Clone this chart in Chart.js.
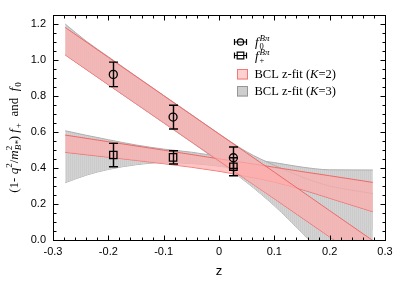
<!DOCTYPE html>
<html><head><meta charset="utf-8">
<script src="https://cdn.jsdelivr.net/npm/chart.js@4.4.1/dist/chart.umd.min.js"></script>
<style>html,body{margin:0;padding:0;background:#fff;}canvas{display:block;}</style>
</head><body>
<canvas id="c" width="407" height="282"></canvas>
<script>
// ---- data ----
const pointZ   = [-0.191, -0.083, 0.026];
const f0Vals   = [0.920, 0.683, 0.457];
const f0Errs   = [0.068, 0.066, 0.060];
const fpVals   = [0.472, 0.459, 0.407];
const fpErrs   = [0.065, 0.037, 0.050];

// BCL z-fit K=2 band edges
const zK2      = [-0.278, -0.2, -0.1, 0, 0.05, 0.1, 0.15, 0.2, 0.278];
const f0K2Hi   = [1.181, 1.015, 0.802, 0.589, 0.483, 0.377, 0.270, 0.163, -0.003];
const f0K2Lo   = [1.028, 0.863, 0.652, 0.440, 0.334, 0.229, 0.123, 0.017, -0.148];
const fpK2Hi   = [0.583, 0.546, 0.499, 0.451, 0.428, 0.404, 0.380, 0.357, 0.320];
const fpK2Lo   = [0.487, 0.460, 0.424, 0.382, 0.353, 0.322, 0.280, 0.232, 0.157];

// BCL z-fit K=3 band edges
const zK3      = [-0.278, -0.24, -0.2, -0.15, -0.1, -0.05, 0, 0.05, 0.1, 0.15, 0.2, 0.278];
const f0K3Hi   = [1.200, 1.105, 1.018, 0.910, 0.803, 0.697, 0.590, 0.490, 0.415, 0.350, 0.300, 0.258];
const f0K3Lo   = [1.030, 0.948, 0.862, 0.756, 0.650, 0.544, 0.435, 0.320, 0.190, 0.040, -0.120, -0.400];
const fpK3Hi   = [0.607, 0.582, 0.557, 0.528, 0.505, 0.488, 0.465, 0.450, 0.430, 0.405, 0.390, 0.389];
const fpK3Lo   = [0.318, 0.360, 0.392, 0.418, 0.430, 0.425, 0.410, 0.385, 0.345, 0.290, 0.210, 0.060];

// axis ticks
const xTicks = [-0.3, -0.2, -0.1, 0, 0.1, 0.2, 0.3];
const xTickLabels = ['-0.3', '-0.2', '-0.1', '0', '0.1', '0.2', '0.3'];
const yTicks = [0, 0.2, 0.4, 0.6, 0.8, 1.0, 1.2];
const yTickLabels = ['0.0', '0.2', '0.4', '0.6', '0.8', '1.0', '1.2'];

// ---- styles ----
const PINK_FILL = 'rgba(255,172,172,0.7)';
const PINK_LINE = 'rgb(238,105,105)';
const GRAY_LINE = 'rgb(175,175,175)';
const SERIF = '"Liberation Serif", "DejaVu Serif", serif';
const SANS = '"Liberation Sans", Arial, sans-serif';

const pc = document.createElement('canvas');
pc.width = 2; pc.height = 4;
const pctx = pc.getContext('2d');
pctx.fillStyle = 'rgb(203,203,203)'; pctx.fillRect(0, 0, 1, 4);
pctx.fillStyle = 'rgb(211,211,211)'; pctx.fillRect(1, 0, 1, 4);
const grayPattern = document.getElementById('c').getContext('2d').createPattern(pc, 'repeat');

const pts = (zs, ys) => zs.map((x, i) => ({x: x, y: ys[i]}));

function band(zs, ys, lineColor, fill, fillColor) {
  return {
    data: pts(zs, ys), showLine: true, pointRadius: 0, borderColor: lineColor,
    borderWidth: 1, backgroundColor: fillColor || 'rgba(0,0,0,0)', fill: fill,
    cubicInterpolationMode: 'monotone'
  };
}

const datasets = [
  {data: pts(pointZ, f0Vals), showLine: false, pointStyle: 'circle', pointRadius: 4,
   borderColor: '#000', borderWidth: 1.3, backgroundColor: 'rgba(0,0,0,0)', errs: f0Errs},
  {data: pts(pointZ, fpVals), showLine: false, pointStyle: 'rect', pointRadius: 5.2,
   borderColor: '#000', borderWidth: 1.3, backgroundColor: 'rgba(0,0,0,0)', errs: fpErrs},
  band(zK2, f0K2Hi, PINK_LINE, 3, PINK_FILL),
  band(zK2, f0K2Lo, PINK_LINE, false),
  band(zK2, fpK2Hi, PINK_LINE, 5, PINK_FILL),
  band(zK2, fpK2Lo, PINK_LINE, false),
  band(zK3, f0K3Hi, GRAY_LINE, 7, grayPattern),
  band(zK3, f0K3Lo, GRAY_LINE, false),
  band(zK3, fpK3Hi, GRAY_LINE, 9, grayPattern),
  band(zK3, fpK3Lo, GRAY_LINE, false)
];

function richWidth(ctx, parts) {
  let w = 0;
  for (const p of parts) { ctx.font = p.font; if (!p.noAdv) w += ctx.measureText(p.t).width + (p.gap || 0); }
  return w;
}
function drawRich(ctx, x, y, parts) {
  let cx = x;
  for (const p of parts) {
    ctx.font = p.font;
    ctx.fillText(p.t, cx, y + (p.dy || 0));
    if (!p.noAdv) cx += ctx.measureText(p.t).width + (p.gap || 0);
  }
}

const errorBars = {
  id: 'errorBars',
  afterDatasetsDraw(chart) {
    const ctx = chart.ctx, xs = chart.scales.x, ys = chart.scales.y;
    ctx.save();
    ctx.strokeStyle = '#000'; ctx.lineWidth = 1.4;
    chart.data.datasets.forEach(ds => {
      if (!ds.errs) return;
      ds.data.forEach((p, i) => {
        const px = Math.round(xs.getPixelForValue(p.x)) + 0.5;
        const y1 = ys.getPixelForValue(p.y + ds.errs[i]);
        const y2 = ys.getPixelForValue(p.y - ds.errs[i]);
        ctx.beginPath();
        ctx.moveTo(px, y1); ctx.lineTo(px, y2);
        ctx.moveTo(px - 4.5, y1); ctx.lineTo(px + 4.5, y1);
        ctx.moveTo(px - 4.5, y2); ctx.lineTo(px + 4.5, y2);
        ctx.stroke();
      });
    });
    ctx.restore();
  }
};

const frameAndDecor = {
  id: 'frameAndDecor',
  afterDraw(chart) {
    const ctx = chart.ctx, a = chart.chartArea, xs = chart.scales.x, ys = chart.scales.y;
    ctx.save();
    ctx.strokeStyle = '#000'; ctx.lineWidth = 1;
    const L = Math.round(a.left) + 0.5, R = Math.round(a.right) + 0.5;
    const T = Math.round(a.top) + 0.5, B = Math.round(a.bottom) + 0.5;
    ctx.strokeRect(L, T, R - L, B - T);
    ctx.beginPath();
    for (let k = -15; k <= 15; k++) {
      const v = k * 0.02;
      const px = Math.round(xs.getPixelForValue(v)) + 0.5;
      const len = (k % 5 === 0) ? 5 : 3;
      ctx.moveTo(px, B); ctx.lineTo(px, B - len);
      ctx.moveTo(px, T); ctx.lineTo(px, T + len);
    }
    for (let k = 0; k <= 25; k++) {
      const v = k * 0.05;
      const py = Math.round(ys.getPixelForValue(v)) + 0.5;
      const len = (k % 4 === 0) ? 5 : 3;
      ctx.moveTo(L, py); ctx.lineTo(L + len, py);
      ctx.moveTo(R, py); ctx.lineTo(R - len, py);
    }
    ctx.stroke();

    // x title
    ctx.fillStyle = '#000';
    ctx.font = '13px ' + SANS;
    ctx.textAlign = 'center'; ctx.textBaseline = 'alphabetic';
    ctx.fillText('z', (a.left + a.right) / 2, 275);

    // y title (rotated)
    const big = '13px ' + SERIF, bigI = 'italic 13px ' + SERIF;
    const sm = '9px ' + SERIF, smI = 'italic 9px ' + SERIF;
    const parts = [
      {t: '(1- ', font: big}, {t: 'q', font: bigI}, {t: '2', font: sm, dy: -6},
      {t: '/', font: big}, {t: 'm', font: bigI}, {t: '2', font: sm, dy: -6, noAdv: true},
      {t: 'B*', font: smI, dy: 3}, {t: ') ', font: big},
      {t: 'f', font: bigI, gap: 1}, {t: '+', font: sm, dy: 3}, {t: '  and  ', font: big},
      {t: 'f', font: bigI, gap: 1}, {t: '0', font: sm, dy: 3}
    ];
    ctx.save();
    ctx.translate(17.5, 137.5);
    ctx.rotate(-Math.PI / 2);
    ctx.textAlign = 'left';
    const w = richWidth(ctx, parts);
    drawRich(ctx, -w / 2, 0, parts);
    ctx.restore();

    // legend
    ctx.textAlign = 'left';
    const lx = 240.5;
    const legItems = [{y: 42, shape: 'circle', sub: '0'}, {y: 55.5, shape: 'rect', sub: '+'}];
    legItems.forEach(it => {
      ctx.strokeStyle = '#000'; ctx.lineWidth = 1.2;
      ctx.beginPath();
      ctx.moveTo(lx - 6, it.y); ctx.lineTo(lx + 6, it.y);
      ctx.moveTo(lx - 6, it.y - 3); ctx.lineTo(lx - 6, it.y + 3);
      ctx.moveTo(lx + 6, it.y - 3); ctx.lineTo(lx + 6, it.y + 3);
      ctx.stroke();
      ctx.beginPath();
      if (it.shape === 'circle') ctx.arc(lx, it.y, 3.2, 0, Math.PI * 2);
      else ctx.rect(lx - 3.3, it.y - 3.3, 6.6, 6.6);
      ctx.stroke();
      ctx.fillStyle = '#000';
      drawRich(ctx, 255, it.y + 4, [
        {t: 'f', font: 'italic 13px ' + SERIF, gap: 1},
        {t: it.sub, font: '8.5px ' + SERIF, dy: 3, noAdv: true},
        {t: 'B\u03c0', font: 'italic 9px ' + SERIF, dy: -5}
      ]);
    });
    // swatches
    ctx.lineWidth = 1;
    ctx.fillStyle = 'rgb(255,208,208)'; ctx.strokeStyle = 'rgb(240,120,120)';
    ctx.fillRect(237, 69.5, 11, 10); ctx.strokeRect(237.5, 69.5, 10, 9.5);
    ctx.fillStyle = 'rgb(206,206,206)'; ctx.strokeStyle = 'rgb(150,150,150)';
    ctx.fillRect(237, 86.5, 11, 10); ctx.strokeRect(237.5, 86.5, 10, 9.5);
    ctx.fillStyle = '#000';
    const t1 = '12.5px ' + SERIF, t1i = 'italic 12.5px ' + SERIF;
    drawRich(ctx, 254.5, 77.5, [{t: 'BCL z-fit (', font: t1}, {t: 'K', font: t1i}, {t: '=2)', font: t1}]);
    drawRich(ctx, 254.5, 94.5, [{t: 'BCL z-fit (', font: t1}, {t: 'K', font: t1i}, {t: '=3)', font: t1}]);
    ctx.restore();
  }
};

new Chart(document.getElementById('c'), {
  type: 'line',
  data: {datasets: datasets},
  plugins: [errorBars, frameAndDecor],
  options: {
    responsive: false, animation: false, devicePixelRatio: 1,
    layout: {padding: {left: 0, right: 22, top: 15, bottom: 0}},
    plugins: {legend: {display: false}, tooltip: {enabled: false}, filler: {propagate: false}},
    scales: {
      x: {
        type: 'linear', min: -0.3, max: 0.3,
        afterBuildTicks: s => { s.ticks = xTicks.map(v => ({value: v})); },
        afterFit: s => { s.height = 42; },
        grid: {display: false, drawTicks: false}, border: {display: false},
        ticks: {padding: 5, color: '#000', font: {family: SANS, size: 11},
                maxRotation: 0, autoSkip: false, callback: (v, i) => xTickLabels[i]}
      },
      y: {
        type: 'linear', min: 0, max: 1.25,
        afterBuildTicks: s => { s.ticks = yTicks.map(v => ({value: v})); },
        afterFit: s => { s.width = 53; },
        grid: {display: false, drawTicks: false}, border: {display: false},
        ticks: {padding: 7, color: '#000', font: {family: SANS, size: 11},
                autoSkip: false, callback: (v, i) => yTickLabels[i]}
      }
    }
  }
});
</script>
</body></html>
